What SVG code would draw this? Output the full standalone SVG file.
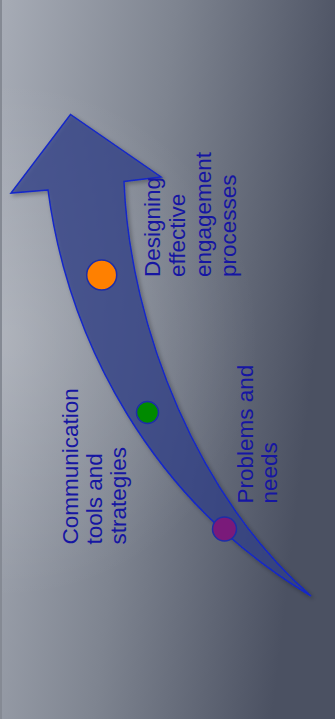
<svg xmlns="http://www.w3.org/2000/svg" width="335" height="719" viewBox="0 0 335 719">
<defs>
<linearGradient id="bg" x1="0" y1="0" x2="1" y2="0.25">
<stop offset="0" stop-color="#a7acb6"/>
<stop offset="0.5" stop-color="#7e8490"/>
<stop offset="1" stop-color="#4b5162"/>
</linearGradient>
<radialGradient id="hl" cx="0" cy="340" r="260" gradientUnits="userSpaceOnUse">
<stop offset="0" stop-color="#ffffff" stop-opacity="0.18"/>
<stop offset="1" stop-color="#ffffff" stop-opacity="0"/>
</radialGradient>
<filter id="sh" x="-20%" y="-20%" width="140%" height="140%">
<feDropShadow dx="2" dy="2" stdDeviation="2" flood-color="#000" flood-opacity="0.35"/>
</filter>
</defs>
<style>
.lbl{font-family:"Liberation Sans",Arial,sans-serif;font-size:22.5px;fill:#1616a2}
.dot{stroke:#1e2ea8;stroke-width:1.5}
</style>
<rect x="0" y="0" width="335" height="719" fill="url(#bg)"/>
<rect x="0" y="0" width="335" height="719" fill="url(#hl)"/>
<rect x="0" y="0" width="2" height="719" fill="#858a94"/>
<g id="connectors">
<path id="arrow" d="M48,190 L11,193 L70.5,114.5 L161,177 L124,181.5 C130,330 200,500 311,596 C150,500 68,340 48,190 Z" fill="#34428a" fill-opacity="0.72" stroke="#1428c8" stroke-width="1.5" stroke-linejoin="miter" filter="url(#sh)"/>
</g>
<g id="node-orange"><circle class="dot" cx="101.7" cy="275" r="15" fill="#ff8000"/></g>
<g id="node-green"><circle class="dot" cx="147.5" cy="412.5" r="11" fill="#008a00"/></g>
<g id="node-purple"><circle class="dot" cx="224.5" cy="529" r="12" fill="#7a1a7a"/></g>
<g id="label-designing" class="lbl">
<text transform="translate(160,277) rotate(-90)">Designing</text>
<text transform="translate(185,277) rotate(-90)">effective</text>
<text transform="translate(210.5,277) rotate(-90)">engagement</text>
<text transform="translate(236,277) rotate(-90)">processes</text>
</g>
<g id="label-communication" class="lbl">
<text transform="translate(78.3,544.5) rotate(-90)">Communication</text>
<text transform="translate(102,544.5) rotate(-90)">tools and</text>
<text transform="translate(126,544.5) rotate(-90)">strategies</text>
</g>
<g id="label-problems" class="lbl">
<text transform="translate(253.3,503.5) rotate(-90)">Problems and</text>
<text transform="translate(277,503.5) rotate(-90)">needs</text>
</g>
</svg>
